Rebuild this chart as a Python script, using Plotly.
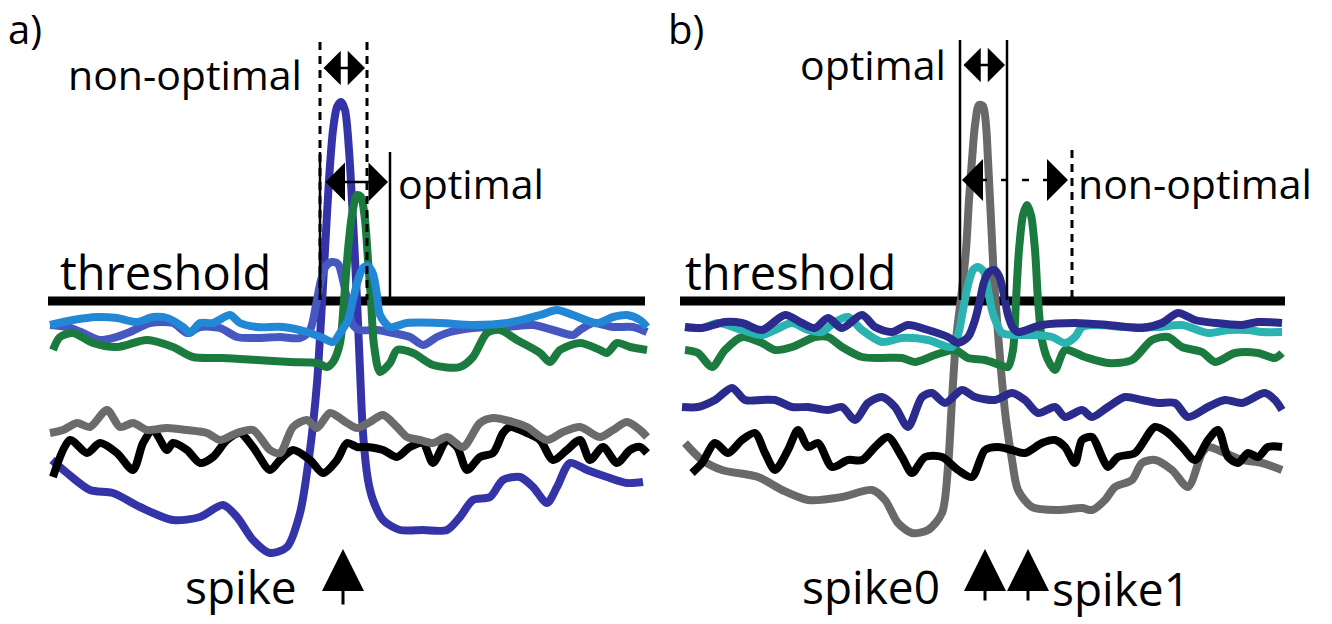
import plotly.graph_objects as go

# ---------------- data (schematic units: time on x, potential drawn downward on y) -------------
# Panel a)
a_blue_t = [52,67,90,113,140,173,200,223,237,253,270,287,300,310,317,321,325,329,333,337,341,345,349,353,357,360,363,368,373,383,400,423,447,460,473,490,503,520,533,547,557,570,587,607,627,643]
a_blue_v = [460,473,490,493,507,520,517,505,517,540,553,547,513,450,383,320,250,180,130,107,102,110,150,220,300,370,433,480,500,520,530,530,530,517,500,497,480,477,487,503,487,463,470,477,483,482]

a_mid_t = [50,67,83,100,113,130,150,173,187,200,220,237,257,280,300,310,316,321,326,332,338,343,348,353,360,377,393,410,423,437,450,473,507,533,553,573,580,593,613,633,647]
a_mid_v = [325,327,333,340,338,332,323,323,333,327,328,337,338,337,338,330,305,280,266,262,264,280,305,325,330,330,333,337,345,337,332,328,327,325,330,335,330,323,327,327,332]

a_light_t = [50,73,97,117,137,153,167,183,190,200,213,230,240,257,283,307,323,333,340,348,353,358,363,368,373,377,380,390,407,440,473,507,540,557,573,597,613,627,640,647]
a_light_v = [325,320,317,318,322,317,318,327,333,323,323,315,323,327,327,332,338,342,333,320,300,280,268,266,274,295,315,327,323,323,325,323,315,310,315,323,317,315,320,327]

a_green_t = [53,60,73,93,117,147,173,193,223,257,290,317,327,333,340,344,348,352,357,361,365,368,371,374,380,390,397,413,433,460,473,487,500,517,540,550,560,580,600,607,617,630,647]
a_green_v = [350,337,333,343,347,340,347,357,358,360,362,363,367,362,343,300,250,215,195,197,220,260,300,345,372,363,350,353,365,367,357,333,330,340,353,362,350,343,350,353,343,347,350]

a_gray_t = [50,63,77,90,107,120,133,147,167,187,207,220,237,253,270,280,293,307,317,330,347,357,370,383,397,407,420,433,447,463,480,493,513,527,547,563,580,600,613,627,640,647]
a_gray_v = [433,430,423,427,410,427,423,430,428,430,433,440,433,430,450,453,427,420,428,413,423,428,422,415,427,437,440,443,437,447,423,418,422,427,440,432,427,437,430,422,430,437]

a_black_t = [53,70,87,100,117,133,143,153,167,173,187,200,213,227,240,253,270,280,293,310,323,337,347,357,367,383,397,410,423,433,447,457,467,480,493,503,510,527,540,553,567,580,590,603,617,630,640,647]
a_black_v = [477,440,453,443,453,470,443,430,450,443,450,463,457,440,433,447,470,460,450,460,473,460,443,447,447,450,457,447,443,463,440,447,470,457,453,433,427,433,440,460,450,440,460,447,463,450,447,453]

# Panel b)
b_navy1_t = [685,702,725,742,762,785,802,815,828,842,862,875,892,908,928,948,958,968,975,980,984,989,994,999,1004,1008,1013,1018,1042,1075,1108,1142,1162,1178,1195,1215,1242,1258,1282]
b_navy1_v = [327,328,322,323,330,315,323,328,318,328,315,327,332,325,330,337,343,337,320,300,282,272,270,276,295,315,328,332,325,323,325,328,323,313,320,323,325,322,323]

b_teal_t = [685,702,718,742,762,775,792,808,822,835,848,862,882,902,928,952,958,963,968,973,978,984,988,992,996,1002,1015,1035,1052,1065,1075,1082,1095,1125,1158,1182,1208,1228,1248,1262,1282]
b_teal_v = [327,328,323,330,335,330,323,330,332,322,317,330,342,338,340,347,335,310,285,270,267,272,290,310,322,333,335,335,337,343,337,327,325,327,327,325,333,330,330,332,332]

b_green_t = [685,698,712,725,742,762,775,792,815,828,842,862,882,902,915,935,955,968,985,1000,1008,1013,1016,1019,1023,1027,1031,1035,1038,1042,1048,1055,1065,1085,1108,1132,1152,1168,1182,1202,1215,1235,1258,1275,1282]
b_green_v = [350,353,367,350,337,343,350,347,337,337,347,357,358,358,362,355,350,358,360,365,367,350,300,250,215,205,215,250,300,340,360,370,350,357,363,360,340,337,347,352,362,353,353,358,353]

b_navy2_t = [682,698,715,732,745,762,775,792,808,828,842,855,868,882,895,908,922,932,945,962,975,995,1012,1025,1038,1055,1065,1082,1092,1108,1125,1142,1158,1175,1188,1208,1225,1242,1265,1275,1282]
b_navy2_v = [407,407,400,388,400,400,400,407,407,410,407,420,403,397,407,427,397,393,403,390,397,400,393,400,413,407,417,410,417,407,397,400,403,403,417,407,400,403,393,400,410]

b_black_t = [692,702,715,728,742,755,765,775,788,798,808,818,832,848,862,875,888,902,912,925,942,958,972,985,998,1012,1025,1042,1055,1065,1075,1082,1092,1102,1108,1118,1135,1155,1168,1182,1195,1208,1218,1228,1238,1248,1258,1268,1282]
b_black_v = [473,463,443,453,440,433,453,470,450,430,447,443,467,460,460,447,437,457,473,457,457,470,477,450,447,450,453,443,440,447,463,440,437,457,467,457,453,427,433,447,460,440,430,457,463,453,457,447,447]

b_gray_t = [685,702,722,758,782,808,842,872,885,898,912,928,942,948,952,956,962,966,969,972,975,979,983,986,988,990,992,994,997,1001,1006,1012,1018,1032,1058,1082,1092,1105,1115,1132,1142,1155,1172,1188,1202,1208,1225,1242,1262,1282]
b_gray_v = [443,460,470,477,490,500,497,490,500,523,533,530,513,467,400,340,290,250,200,160,125,105,106,125,160,200,240,280,320,370,420,460,490,507,510,508,510,500,487,480,463,460,470,487,453,447,453,460,463,470]

# threshold level and its extent per panel
threshold_level = 301
a_span = [48, 645]
b_span = [680, 1285]

# ---------------- figure ----------------
fig = go.Figure()

def add(t, v, color, width=8):
    fig.add_trace(go.Scatter(x=t, y=v, mode="lines",
                             line=dict(color=color, width=width, shape="spline", smoothing=0.8),
                             hoverinfo="skip", showlegend=False))

# panel a (back to front)
add(a_blue_t, a_blue_v, "#3434a8")
add(a_mid_t, a_mid_v, "#4658c0")
add(a_green_t, a_green_v, "#1b7a3e")
add(a_light_t, a_light_v, "#2288d6")
add(a_black_t, a_black_v, "#000000")
add(a_gray_t, a_gray_v, "#6b6b6b")

# panel b
add(b_gray_t, b_gray_v, "#696969")
add(b_green_t, b_green_v, "#1b7a3e")
add(b_teal_t, b_teal_v, "#2ab3b0")
add(b_navy1_t, b_navy1_v, "#2b2b8e")
add(b_navy2_t, b_navy2_v, "#2b2b8e")
add(b_black_t, b_black_v, "#000000")

shapes = []
# threshold lines
for sp in (a_span, b_span):
    shapes.append(dict(type="line", x0=sp[0], x1=sp[1], y0=threshold_level, y1=threshold_level,
                       xref="x", yref="y", line=dict(color="black", width=9), layer="below"))

def vline(x, y0, y1, dash="solid", width=2.5):
    shapes.append(dict(type="line", x0=x, x1=x, y0=y0, y1=y1, xref="x", yref="y",
                       line=dict(color="black", width=width, dash=dash)))

# panel a windows
vline(320, 42, 300, "8px,6px", 3)
vline(367, 42, 300, "8px,6px", 3)
vline(320, 152, 300)
vline(390, 152, 300)
# panel b windows
vline(960, 40, 300)
vline(1007, 40, 300)
vline(1072, 150, 300, "8px,6px", 3)
# dashed arrow shaft (panel b)
shapes.append(dict(type="line", x0=980, x1=1054, y0=180, y1=180, xref="x", yref="y",
                   line=dict(color="black", width=2.5, dash="7px,14px")))

annotations = []

def text(x, y, s, size, anchor="left"):
    annotations.append(dict(x=x, y=y, text=s, showarrow=False, xref="x", yref="y",
                            xanchor=anchor, yanchor="middle",
                            font=dict(family="Open Sans", size=size, color="black")))

def darrow(x0, x1, y, size, width=2.5):
    annotations.append(dict(x=x1, y=y, ax=x0, ay=y, xref="x", yref="y", axref="x", ayref="y",
                            text="", showarrow=True, arrowhead=1, startarrowhead=1,
                            arrowside="end+start", arrowsize=size, startarrowsize=size,
                            arrowwidth=width, arrowcolor="black", standoff=0, startstandoff=0))

def uparrow(x, y_tip, y_tail):
    annotations.append(dict(x=x, y=y_tip, ax=x, ay=y_tail, xref="x", yref="y", axref="x", ayref="y",
                            text="", showarrow=True, arrowhead=2, arrowsize=2.8, arrowwidth=3,
                            arrowcolor="black", standoff=0))

def headonly(x_tip, x_tail, y, size, width=2.5):
    annotations.append(dict(x=x_tip, y=y, ax=x_tail, ay=y, xref="x", yref="y", axref="x", ayref="y",
                            text="", showarrow=True, arrowhead=1, arrowsize=size, arrowwidth=width,
                            arrowcolor="black", standoff=0))

# panel a labels
text(6, 28, "a)", 40)
text(66, 74, "non-optimal", 41)
text(396, 183, "optimal", 41)
text(58, 272, "threshold", 47)
text(183, 586, "spike", 46)
darrow(322, 365, 68, 2.3)
darrow(324, 388, 182, 2.6)
uparrow(343, 549, 606)

# panel b labels
text(666, 28, "b)", 40)
text(798, 64, "optimal", 41)
text(1076, 183, "non-optimal", 41)
text(683, 272, "threshold", 47)
text(800, 586, "spike0", 46)
text(1050, 588, "spike1", 46)
darrow(962, 1005, 65, 2.3)
headonly(962, 982, 180, 2.8)
headonly(1068, 1048, 180, 2.8)
uparrow(985, 549, 602)
uparrow(1028, 549, 602)

fig.update_layout(
    width=1332, height=624,
    margin=dict(l=0, r=0, t=0, b=0),
    paper_bgcolor="white", plot_bgcolor="white",
    xaxis=dict(range=[0, 1332], visible=False, fixedrange=True),
    yaxis=dict(range=[624, 0], visible=False, fixedrange=True),
    shapes=shapes, annotations=annotations,
)

fig.write_html("out.html")
